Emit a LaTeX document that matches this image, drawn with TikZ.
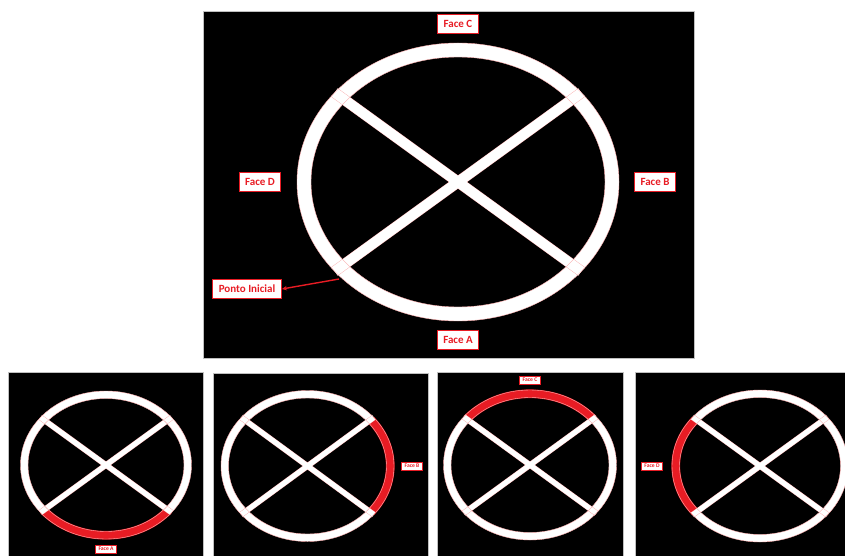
\documentclass[tikz,border=0pt]{standalone}
\usepackage{fontspec}
\setmainfont{Carlito}
\usetikzlibrary{arrows.meta}
\definecolor{hired}{RGB}{232,28,36}
\definecolor{edgepink}{RGB}{250,170,170}
\tikzset{
  panel/.style={fill=black, draw=gray!50, line width=0.6pt},
  biglabel/.style={draw=hired, line width=0.8pt, fill=white, text=hired, font=\bfseries\fontsize{11}{12}\selectfont, inner xsep=3pt, inner ysep=3pt, minimum height=18.5pt},
  smalllabel/.style={draw=hired, line width=0.5pt, fill=white, text=hired, font=\bfseries\fontsize{5.6}{6}\selectfont, inner xsep=1.8pt, inner ysep=1.4pt, minimum width=21pt, minimum height=8.5pt},
  ptarrow/.style={draw=hired, line width=1.4pt, -{Stealth[length=5pt,width=4.5pt]}}
}
% cx, cy, a, b, ring width, bar width, highlight start, highlight end
\newcommand\wheeldraw[8]{%
  \pgfmathsetmacro\wa{#3-#5/2}%
  \pgfmathsetmacro\wb{#4-#5/2}%
  \pgfmathsetmacro\ia{#3-#5}%
  \pgfmathsetmacro\ib{#4-#5}%
  \draw[white, line width=#5pt] (#1,#2) ellipse [x radius=\wa, y radius=\wb];
  \ifx\relax#7\relax\else
  \draw[hired, line width=#5pt+1.2pt] ({#1+\wa*cos(#7)},{#2+\wb*sin(#7)}) arc[start angle=#7, end angle=#8, x radius=\wa, y radius=\wb];
  \fi
  \coordinate (wur) at ({#1+#3*cos(40)},{#2+#4*sin(40)});
  \coordinate (wul) at ({#1-#3*cos(40)},{#2+#4*sin(40)});
  \coordinate (wll) at ({#1-#3*cos(40)},{#2-#4*sin(40)});
  \coordinate (wlr) at ({#1+#3*cos(40)},{#2-#4*sin(40)});
  \draw[edgepink, line width=#6pt+0.8pt] (wur) -- (wll) (wul) -- (wlr);
  \draw[white, line width=#6pt] (wur) -- (wll) (wul) -- (wlr);
  \draw[edgepink, line width=0.4pt] (#1,#2) ellipse [x radius=#3, y radius=#4];
  \draw[edgepink, line width=0.4pt] (#1,#2) ellipse [x radius=\ia, y radius=\ib];
}
\begin{document}
\begin{tikzpicture}[x=1pt,y=1pt]
\useasboundingbox (0,0) rectangle (845,555);
\fill[white] (0,0) rectangle (845,555);
% panels
\draw[panel] (203,197) rectangle (694,544);
\draw[panel] (8,-2) rectangle (203,183);
\draw[panel] (213,-2) rectangle (428,182);
\draw[panel] (437,-2) rectangle (623,183);
\draw[panel] (635,-2) rectangle (847,183);
% big wheel
\wheeldraw{458}{373}{161}{139}{14}{10}{}{}
\coordinate (start) at (339,276);
\node[biglabel, minimum width=41pt] (fC) at (458,531) {Face C};
\node[biglabel, minimum width=41pt] (fA) at (458,215) {Face A};
\node[biglabel, minimum width=41pt] (fD) at (260,373) {Face D};
\node[biglabel, minimum width=41pt] (fB) at (655,373) {Face B};
\node[biglabel, minimum width=69pt] (pi) at (247,266) {Ponto Inicial};
\draw[ptarrow] (start) -- (pi.east);
% small wheels
\wheeldraw{106}{90}{85.5}{74}{7.5}{5}{220}{320}
\node[smalllabel] (sA) at (106,6) {Face A};
\wheeldraw{307.5}{89}{86.5}{75.5}{7.5}{5}{-40}{40}
\node[smalllabel] (sB) at (412,89) {Face B};
\wheeldraw{530}{90}{86.5}{75}{7.5}{5}{40}{140}
\node[smalllabel] (sC) at (530,175) {Face C};
\wheeldraw{760}{89}{88}{76}{7.5}{5}{140}{220}
\node[smalllabel] (sD) at (652,89) {Face D};
\end{tikzpicture}
\end{document}
